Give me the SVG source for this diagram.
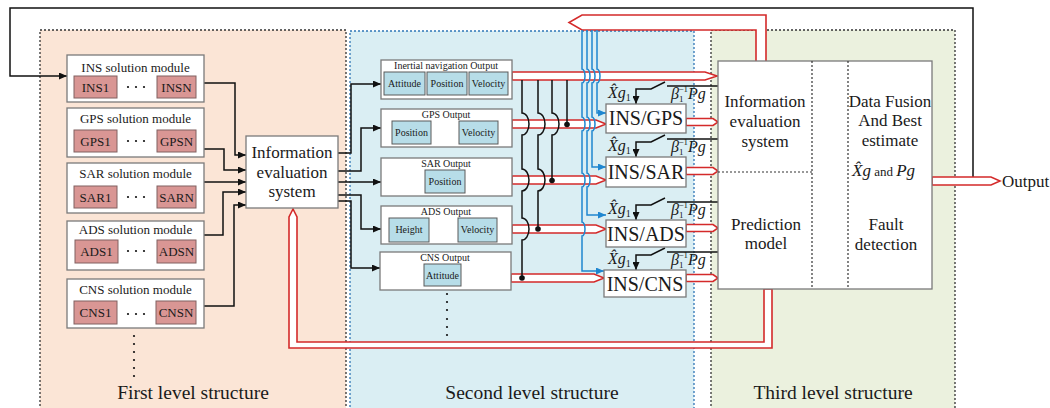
<svg xmlns="http://www.w3.org/2000/svg" width="1050" height="408" viewBox="0 0 1050 408" font-family="'Liberation Serif', 'DejaVu Serif', serif">
<defs>
<marker id="ab" markerWidth="8" markerHeight="7" refX="8" refY="3.5" orient="auto" markerUnits="userSpaceOnUse"><path d="M0,0 L8,3.5 L0,7 z" fill="#111"/></marker>
<marker id="abl" markerWidth="8" markerHeight="7" refX="8" refY="3.5" orient="auto" markerUnits="userSpaceOnUse"><path d="M0,0 L8,3.5 L0,7 z" fill="#1f86d0"/></marker>
</defs>
<style>
text{font-family:'Liberation Serif','DejaVu Serif',serif;fill:#1a1a1a}
.c{text-anchor:middle}
.f13{font-size:13px}
.f10{font-size:10px}
.f17{font-size:17px}
.f20{font-size:20px}
.f19{font-size:19.5px}
.f16{font-size:16px}
.it{font-style:italic}
.p1{fill:#fbe5d6;stroke:#333;stroke-width:1.3;stroke-dasharray:2 2}
.p2{fill:#daeef3;stroke:#2e75b6;stroke-width:1.3;stroke-dasharray:2 2}
.p3{fill:#ebf1de;stroke:#333;stroke-width:1.3;stroke-dasharray:2 2}
.box{fill:#fff;stroke:#7a7a7a;stroke-width:1.3}
.rb{fill:#d99694;stroke:#806060;stroke-width:1}
.cb{fill:#b7dde8;stroke:#5a5a5a;stroke-width:1}
.ln{fill:none;stroke:#111;stroke-width:1.5}
.bl{fill:none;stroke:#1f86d0;stroke-width:1.5}
.ra{fill:#fff;stroke:#d42a2a;stroke-width:1.6;stroke-linejoin:miter}
.dv{fill:none;stroke:#333;stroke-width:1.2;stroke-dasharray:2 2}
.dot{fill:#111}
</style>

<g id="panels">
<rect class="p1" x="40" y="30" width="306" height="392"/>
<rect class="p2" x="350" y="31" width="344" height="392"/>
<rect class="p3" x="711" y="30" width="244" height="392"/>
<text class="c f19" x="193" y="399">First level structure</text>
<text class="c f19" x="532" y="399">Second level structure</text>
<text class="c f19" x="833" y="399">Third level structure</text>
</g>

<g id="connectors">
<path class="ln" d="M973,177 V8 H10 V76 H67" marker-end="url(#ab)"/>
<path class="ln" d="M204,83 H235 V155 H246" marker-end="url(#ab)"/>
<path class="ln" d="M204,149 H224 V170 H246" marker-end="url(#ab)"/>
<path class="ln" d="M204,182 H246" marker-end="url(#ab)"/>
<path class="ln" d="M204,235 H223 V192 H246" marker-end="url(#ab)"/>
<path class="ln" d="M204,306 H234 V205 H246" marker-end="url(#ab)"/>
<path class="ln" d="M338,153 H351 V84 H381" marker-end="url(#ab)"/>
<path class="ln" d="M338,171 H361 V128 H381" marker-end="url(#ab)"/>
<path class="ln" d="M338,182 H381" marker-end="url(#ab)"/>
<path class="ln" d="M338,195 H361 V229 H381" marker-end="url(#ab)"/>
<path class="ln" d="M338,201 H351 V268 H380" marker-end="url(#ab)"/>
<path class="ra" d="M766,61 V15 H582 L569,22.5 L582,30 H756 V61"/>
<path class="ra" d="M293,209 L289,217 V348 H772 V289 H764 V342 H297 V217 Z"/>
<path class="ra" d="M512,72 H705 L717,76 L705,80 H512 Z"/>
<path class="ra" d="M512,120 H596 L606,124 L596,128 H512 Z"/>
<path class="ra" d="M512,176 H596 L606,180 L596,184 H512 Z"/>
<path class="ra" d="M512,225 H596 L606,229 L596,233 H512 Z"/>
<path class="ra" d="M511,274 H594 L604,278 L594,282 H511 Z"/>
<path class="ra" d="M686,118.5 H713 L718,122 L713,125.5 H686 Z"/>
<path class="ra" d="M686,167.5 H713 L718,171 L713,174.5 H686 Z"/>
<path class="ra" d="M686,224.5 H713 L718,228 L713,231.5 H686 Z"/>
<path class="ra" d="M686,274.5 H713 L718,278 L713,281.5 H686 Z"/>
<path class="ra" d="M812,144 H840 L845,147.5 L840,151 H812 Z"/>
<path class="ra" d="M847,202 H818 L813,205 L818,208 H847 Z"/>
<path class="ra" d="M932,177 H991 L1000,181 L991,185 H932 Z"/>
<path class="ln" d="M567,80 V124.5"/>
<path class="ln" d="M552,80 V113 A7,11 0 0 1 552,135 V180.5"/>
<path class="ln" d="M538,80 V113 A7,11 0 0 1 538,135 V169 A7,11 0 0 1 538,191 V229"/>
<path class="ln" d="M522,80 V113 A7,11 0 0 1 522,135 V169 A7,11 0 0 1 522,191 V218 A7,11 0 0 1 522,240 V278"/>
<circle class="dot" cx="567" cy="124.5" r="2.8"/>
<circle class="dot" cx="552" cy="180.5" r="2.8"/>
<circle class="dot" cx="538" cy="229" r="2.8"/>
<circle class="dot" cx="522" cy="278" r="2.8"/>
<path class="bl" d="M597,30 V69 A3,7 0 0 1 597,83 V113 H606" marker-end="url(#abl)"/>
<path class="bl" d="M592,30 V69 A3,7 0 0 1 592,83 V117 A3,7 0 0 1 592,131 V167 H606" marker-end="url(#abl)"/>
<path class="bl" d="M587,30 V69 A3,7 0 0 1 587,83 V117 A3,7 0 0 1 587,131 V173 A3,7 0 0 1 587,187 V215 H606" marker-end="url(#abl)"/>
<path class="bl" d="M582,30 V69 A3,7 0 0 1 582,83 V117 A3,7 0 0 1 582,131 V173 A3,7 0 0 1 582,187 V222 A3,7 0 0 1 582,236 V271 H604" marker-end="url(#abl)"/>
<path class="ln" d="M667,86 H718"/>
<path class="ln" d="M665,82 L651,89 H636 V104" marker-end="url(#ab)"/>
<path class="ln" d="M667,139 H718"/>
<path class="ln" d="M665,135 L651,142 H636 V157" marker-end="url(#ab)"/>
<path class="ln" d="M667,202 H718"/>
<path class="ln" d="M665,198 L651,205 H636 V220" marker-end="url(#ab)"/>
<path class="ln" d="M667,252 H718"/>
<path class="ln" d="M665,248 L651,255 H636 V270" marker-end="url(#ab)"/>
</g>

<g id="ins-module">
<rect class="box" x="67" y="55" width="137" height="47"/>
<text class="c f13" x="135.5" y="72">INS solution module</text>
<rect class="rb" x="74" y="76" width="43" height="22"/><text class="c f13" x="95.5" y="92">INS1</text>
<circle class="dot" cx="128" cy="87" r="1.1"/><circle class="dot" cx="136" cy="87" r="1.1"/><circle class="dot" cx="144" cy="87" r="1.1"/>
<rect class="rb" x="157" y="76" width="39" height="22"/><text class="c f13" x="176.5" y="92">INSN</text>
</g>
<g id="gps-module">
<rect class="box" x="67" y="108" width="137" height="49"/>
<text class="c f13" x="135.5" y="123">GPS solution module</text>
<rect class="rb" x="74" y="130" width="43" height="22"/><text class="c f13" x="95.5" y="146">GPS1</text>
<circle class="dot" cx="128" cy="141" r="1.1"/><circle class="dot" cx="136" cy="141" r="1.1"/><circle class="dot" cx="144" cy="141" r="1.1"/>
<rect class="rb" x="157" y="130" width="39" height="22"/><text class="c f13" x="176.5" y="146">GPSN</text>
</g>
<g id="sar-module">
<rect class="box" x="67" y="163" width="137" height="50"/>
<text class="c f13" x="135.5" y="178">SAR solution module</text>
<rect class="rb" x="74" y="186" width="43" height="22"/><text class="c f13" x="95.5" y="202">SAR1</text>
<circle class="dot" cx="128" cy="197" r="1.1"/><circle class="dot" cx="136" cy="197" r="1.1"/><circle class="dot" cx="144" cy="197" r="1.1"/>
<rect class="rb" x="157" y="186" width="39" height="22"/><text class="c f13" x="176.5" y="202">SARN</text>
</g>
<g id="ads-module">
<rect class="box" x="67" y="221" width="137" height="49"/>
<text class="c f13" x="135.5" y="234">ADS solution module</text>
<rect class="rb" x="75" y="240" width="43" height="23"/><text class="c f13" x="96.5" y="256">ADS1</text>
<circle class="dot" cx="128" cy="251" r="1.1"/><circle class="dot" cx="136" cy="251" r="1.1"/><circle class="dot" cx="144" cy="251" r="1.1"/>
<rect class="rb" x="157" y="240" width="39" height="23"/><text class="c f13" x="176.5" y="256">ADSN</text>
</g>
<g id="cns-module">
<rect class="box" x="67" y="279" width="137" height="49"/>
<text class="c f13" x="135.5" y="294">CNS solution module</text>
<rect class="rb" x="74" y="301" width="43" height="23"/><text class="c f13" x="95.5" y="317">CNS1</text>
<circle class="dot" cx="128" cy="314" r="1.1"/><circle class="dot" cx="136" cy="314" r="1.1"/><circle class="dot" cx="144" cy="314" r="1.1"/>
<rect class="rb" x="156" y="301" width="40" height="23"/><text class="c f13" x="176" y="317">CNSN</text>
</g>
<g id="more-modules">
<circle class="dot" cx="134" cy="336" r="1.1"/><circle class="dot" cx="134" cy="344" r="1.1"/><circle class="dot" cx="134" cy="352" r="1.1"/><circle class="dot" cx="134" cy="360" r="1.1"/><circle class="dot" cx="134" cy="368" r="1.1"/><circle class="dot" cx="134" cy="376" r="1.1"/>
</g>

<g id="info-eval-1">
<rect class="box" x="246" y="136" width="92" height="72"/>
<text class="c f17" x="292" y="158">Information</text>
<text class="c f17" x="292" y="178">evaluation</text>
<text class="c f17" x="292" y="197">system</text>
</g>

<g id="inertial-output">
<rect class="box" x="381" y="60" width="131" height="39"/>
<text class="c f10" x="446" y="69">Inertial navigation Output</text>
<rect class="cb" x="384" y="72" width="41" height="23"/><text class="c f10" x="404.5" y="87">Attitude</text>
<rect class="cb" x="427" y="72" width="40" height="23"/><text class="c f10" x="447" y="87">Position</text>
<rect class="cb" x="469" y="72" width="39" height="23"/><text class="c f10" x="488.5" y="87">Velocity</text>
</g>
<g id="gps-output">
<rect class="box" x="381" y="109" width="131" height="38"/>
<text class="c f10" x="446" y="118">GPS Output</text>
<rect class="cb" x="392" y="121" width="39" height="23"/><text class="c f10" x="411.5" y="136">Position</text>
<rect class="cb" x="459" y="121" width="39" height="23"/><text class="c f10" x="478.5" y="136">Velocity</text>
</g>
<g id="sar-output">
<rect class="box" x="381" y="158" width="131" height="38"/>
<text class="c f10" x="446" y="167">SAR Output</text>
<rect class="cb" x="425" y="170" width="40" height="23"/><text class="c f10" x="445" y="185">Position</text>
</g>
<g id="ads-output">
<rect class="box" x="381" y="206" width="131" height="38"/>
<text class="c f10" x="446" y="215">ADS Output</text>
<rect class="cb" x="389" y="218" width="40" height="24"/><text class="c f10" x="409" y="233">Height</text>
<rect class="cb" x="458" y="218" width="39" height="24"/><text class="c f10" x="477.5" y="233">Velocity</text>
</g>
<g id="cns-output">
<rect class="box" x="380" y="252" width="131" height="38"/>
<text class="c f10" x="445" y="261">CNS Output</text>
<rect class="cb" x="424" y="264" width="37" height="22"/><text class="c f10" x="442.5" y="278.5">Attitude</text>
</g>
<g id="more-outputs">
<circle class="dot" cx="447" cy="294" r="1.1"/><circle class="dot" cx="447" cy="302" r="1.1"/><circle class="dot" cx="447" cy="310" r="1.1"/><circle class="dot" cx="447" cy="319" r="1.1"/><circle class="dot" cx="447" cy="327" r="1.1"/><circle class="dot" cx="447" cy="335" r="1.1"/>
</g>

<g id="ins-gps">
<rect class="box" x="606" y="104" width="80" height="29"/>
<text class="c f20" x="646" y="125">INS/GPS</text>
<text class="f16" x="608" y="98"><tspan class="it">X̂g</tspan><tspan font-size="10" dy="3">1</tspan></text>
<text class="f16" x="671" y="99"><tspan class="it">β</tspan><tspan font-size="9" dy="3">1</tspan><tspan font-size="9" dx="-5" dy="-10">−1</tspan><tspan class="it" dy="7">Pg</tspan></text>
</g>
<g id="ins-sar">
<rect class="box" x="606" y="157" width="80" height="30"/>
<text class="c f20" x="646" y="179">INS/SAR</text>
<text class="f16" x="608" y="151"><tspan class="it">X̂g</tspan><tspan font-size="10" dy="3">1</tspan></text>
<text class="f16" x="671" y="152"><tspan class="it">β</tspan><tspan font-size="9" dy="3">1</tspan><tspan font-size="9" dx="-5" dy="-10">−1</tspan><tspan class="it" dy="7">Pg</tspan></text>
</g>
<g id="ins-ads">
<rect class="box" x="606" y="220" width="80" height="27"/>
<text class="c f20" x="646" y="241">INS/ADS</text>
<text class="f16" x="608" y="214"><tspan class="it">X̂g</tspan><tspan font-size="10" dy="3">1</tspan></text>
<text class="f16" x="671" y="215"><tspan class="it">β</tspan><tspan font-size="9" dy="3">1</tspan><tspan font-size="9" dx="-5" dy="-10">−1</tspan><tspan class="it" dy="7">Pg</tspan></text>
</g>
<g id="ins-cns">
<rect class="box" x="604" y="270" width="82" height="27"/>
<text class="c f20" x="645" y="291">INS/CNS</text>
<text class="f16" x="608" y="264"><tspan class="it">X̂g</tspan><tspan font-size="10" dy="3">1</tspan></text>
<text class="f16" x="671" y="265"><tspan class="it">β</tspan><tspan font-size="9" dy="3">1</tspan><tspan font-size="9" dx="-5" dy="-10">−1</tspan><tspan class="it" dy="7">Pg</tspan></text>
</g>

<g id="fusion-center">
<rect class="box" x="718" y="61" width="214" height="228"/>
<path class="dv" d="M812,61 V289 M848,61 V289 M718,172 H812"/>
<text class="c f17" x="765" y="107">Information</text>
<text class="c f17" x="765" y="127">evaluation</text>
<text class="c f17" x="765" y="147">system</text>
<text class="c f17" x="766" y="230">Prediction</text>
<text class="c f17" x="766" y="249">model</text>
<text class="c f17" x="890" y="107">Data Fusion</text>
<text class="c f17" x="890" y="126">And Best</text>
<text class="c f17" x="890" y="146">estimate</text>
<text class="f17" x="852" y="176"><tspan class="it">X̂g</tspan><tspan font-size="13"> and </tspan><tspan class="it">Pg</tspan></text>
<text class="c f17" x="886" y="230">Fault</text>
<text class="c f17" x="886" y="250">detection</text>
</g>

<g id="output">
<text class="f17" x="1002" y="187">Output</text>
</g>
</svg>
